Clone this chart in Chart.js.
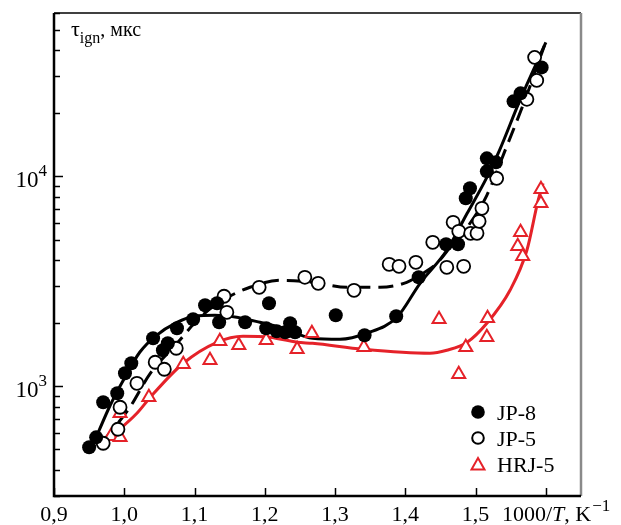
<!DOCTYPE html>
<html>
<head>
<meta charset="utf-8">
<script src="https://cdn.jsdelivr.net/npm/chart.js@4.4.1/dist/chart.umd.min.js"></script>
<style>
  html, body { margin: 0; padding: 0; background: #fff; }
  #wrap { width: 621px; height: 525px; }
</style>
</head>
<body>
<div id="wrap"><canvas id="chart" width="621" height="525"></canvas></div>
<script>
// ----- data (x = 1000/T, K^-1 ; y = tau_ign, mks) -----
const jp8X = [0.950, 0.960, 0.970, 0.990, 1.001, 1.010, 1.041, 1.055, 1.062, 1.075, 1.098, 1.115, 1.132, 1.135, 1.172, 1.206, 1.202, 1.217, 1.229, 1.236, 1.243, 1.301, 1.342, 1.387, 1.419, 1.458, 1.475, 1.486, 1.492, 1.516, 1.516, 1.529, 1.554, 1.564, 1.594];
const jp8Y = [512, 571, 839, 926, 1153, 1287, 1692, 1484, 1602, 1889, 2085, 2431, 2485, 2017, 2017, 2485, 1889, 1828, 1808, 1995, 1808, 2178, 1750, 2154, 3304, 4745, 4745, 7858, 8769, 10564, 12182, 11660, 22760, 24850, 33040];

const jp5X = [0.970, 0.991, 0.994, 1.018, 1.044, 1.057, 1.074, 1.142, 1.146, 1.192, 1.257, 1.276, 1.327, 1.377, 1.391, 1.415, 1.439, 1.459, 1.468, 1.476, 1.483, 1.493, 1.502, 1.505, 1.509, 1.530, 1.573, 1.587, 1.584];
const jp5Y = [535, 624, 794, 1033, 1301, 1205, 1517, 2683, 2251, 2961, 3304, 3094, 2865, 3811, 3728, 3895, 4851, 3687, 6039, 5472, 3728, 5354, 5354, 6105, 7041, 9783, 23270, 28650, 36880];

const hrjX = [0.981, 0.994, 0.994, 1.035, 1.084, 1.122, 1.136, 1.163, 1.202, 1.246, 1.267, 1.341, 1.448, 1.476, 1.486, 1.516, 1.517, 1.560, 1.564, 1.567, 1.593, 1.593];
const hrjY = [578, 571, 744, 886, 1273, 1330, 1638, 1568, 1656, 1500, 1788, 1533, 2085, 1141, 1533, 1712, 2108, 4642, 5412, 4159, 7439, 8676];

// fitted curves
const fitJp8X = [0.957, 0.980, 1.001, 1.022, 1.044, 1.075, 1.101, 1.129, 1.160, 1.193, 1.226, 1.268, 1.307, 1.345, 1.388, 1.421, 1.459, 1.488, 1.516, 1.534, 1.563, 1.600];
const fitJp8Y = [541, 812, 1104, 1452, 1730, 2017, 2154, 2178, 2131, 2017, 1889, 1692, 1674, 1788, 2131, 3094, 4443, 6665, 9890, 13300, 23010, 43450];

const fitJp5X = [0.971, 1.008, 1.037, 1.075, 1.108, 1.140, 1.179, 1.222, 1.268, 1.317, 1.364, 1.402, 1.425, 1.445, 1.466, 1.488, 1.516, 1.542, 1.570, 1.598];
const fitJp5Y = [553, 794, 1153, 1602, 2131, 2568, 2961, 3196, 3127, 2961, 2961, 3127, 3452, 3853, 4692, 5716, 8122, 13300, 23010, 42060];

const fitHrjX = [0.980, 1.018, 1.037, 1.084, 1.132, 1.169, 1.207, 1.246, 1.268, 1.340, 1.435, 1.459, 1.488, 1.516, 1.549, 1.573, 1.589, 1.596];
const fitHrjY = [571, 744, 886, 1287, 1620, 1730, 1712, 1620, 1602, 1500, 1436, 1484, 1620, 1995, 2865, 4443, 7686, 9262];

// axes
const xMin = 0.9, xMax = 1.65;
const yMin = 300, yMax = 60000;
const xTicks = [0.9, 1.0, 1.1, 1.2, 1.3, 1.4, 1.5, 1.6];
const xTickLabels = ['0,9', '1,0', '1,1', '1,2', '1,3', '1,4', '1,5', ''];
const yTicks = [300, 400, 500, 600, 700, 800, 900, 1000, 2000, 3000, 4000, 5000, 6000, 7000, 8000, 9000, 10000, 20000, 30000, 40000, 50000, 60000];
const yMajor = [1000, 10000];
const yMajorExp = ['3', '4'];

const legendNames = ['JP-8', 'JP-5', 'HRJ-5'];
const RED = '#e52229';
const SERIF = '"Liberation Serif", "DejaVu Serif", serif';

const pts = (xs, ys) => xs.map((x, i) => ({ x: x, y: ys[i] }));

// ----- axes, ticks, labels and legend drawn by hand -----
const framePlugin = {
  id: 'frame',
  afterDraw(chart) {
    const ctx = chart.ctx;
    const a = chart.chartArea;
    const xs = chart.scales.x, ys = chart.scales.y;
    ctx.save();

    // top and right border
    ctx.lineWidth = 1.5;
    ctx.strokeStyle = '#000';
    ctx.beginPath(); ctx.moveTo(a.left, a.top); ctx.lineTo(a.right, a.top); ctx.stroke();
    ctx.lineWidth = 2.5;
    ctx.strokeStyle = '#8a8a8a';
    ctx.beginPath(); ctx.moveTo(a.right, a.top); ctx.lineTo(a.right, a.bottom); ctx.stroke();

    // left + bottom axis
    ctx.strokeStyle = '#000';
    ctx.lineWidth = 2.5;
    ctx.beginPath(); ctx.moveTo(a.left, a.top); ctx.lineTo(a.left, a.bottom); ctx.lineTo(a.right, a.bottom); ctx.stroke();

    // ticks (inward)
    ctx.lineWidth = 1.5;
    yTicks.forEach(v => {
      const py = Math.round(ys.getPixelForValue(v)) + 0.5;
      const len = yMajor.includes(v) ? 9 : 6;
      ctx.beginPath(); ctx.moveTo(a.left, py); ctx.lineTo(a.left + len, py); ctx.stroke();
    });
    xTicks.forEach(v => {
      const px = Math.round(xs.getPixelForValue(v)) + 0.5;
      ctx.beginPath(); ctx.moveTo(px, a.bottom); ctx.lineTo(px, a.bottom - 8); ctx.stroke();
    });

    // x tick labels
    ctx.fillStyle = '#000';
    ctx.textBaseline = 'alphabetic';
    ctx.textAlign = 'center';
    ctx.font = '22px ' + SERIF;
    xTicks.forEach((v, i) => {
      if (xTickLabels[i]) ctx.fillText(xTickLabels[i], xs.getPixelForValue(v), 521);
    });

    // x axis title: 1000/T, K^-1
    ctx.textAlign = 'left';
    let tx = 502;
    ctx.font = '22px ' + SERIF;
    ctx.fillText('1000/', tx, 521); tx += ctx.measureText('1000/').width;
    ctx.font = 'italic 22px ' + SERIF;
    ctx.fillText('T', tx, 521); tx += ctx.measureText('T').width;
    ctx.font = '22px ' + SERIF;
    ctx.fillText(', K', tx, 521); tx += ctx.measureText(', K').width + 1;
    ctx.font = '17px ' + SERIF;
    ctx.fillText('\u22121', tx, 511);

    // y labels 10^3, 10^4
    yMajor.forEach((v, i) => {
      const py = ys.getPixelForValue(v);
      ctx.font = '17px ' + SERIF;
      const ew = ctx.measureText(yMajorExp[i]).width;
      ctx.textAlign = 'left';
      ctx.fillText(yMajorExp[i], 47 - ew, py);
      ctx.font = '23px ' + SERIF;
      ctx.textAlign = 'right';
      ctx.fillText('10', 47 - ew, py + 11);
    });

    // y title: tau_ign, mks
    ctx.textAlign = 'left';
    let ty = 71;
    ctx.font = '22px ' + SERIF;
    ctx.fillText('\u03c4', ty, 36); ty += ctx.measureText('\u03c4').width;
    ctx.font = '16px ' + SERIF;
    ctx.fillText('ign', ty, 43); ty += ctx.measureText('ign').width;
    ctx.font = '20px ' + SERIF;
    ctx.fillText(', \u043c\u043a\u0441', ty, 36);

    // legend
    const lx = 478;
    ctx.font = '22px ' + SERIF;
    ctx.fillStyle = '#000';
    ctx.beginPath(); ctx.arc(lx, 412, 6.8, 0, Math.PI * 2); ctx.fill();
    ctx.lineWidth = 2;
    ctx.strokeStyle = '#000';
    ctx.fillStyle = '#fff';
    ctx.beginPath(); ctx.arc(lx, 438, 5.8, 0, Math.PI * 2); ctx.fill(); ctx.stroke();
    ctx.strokeStyle = RED;
    ctx.beginPath();
    ctx.moveTo(lx, 458); ctx.lineTo(lx + 6.5, 469.5); ctx.lineTo(lx - 6.5, 469.5); ctx.closePath();
    ctx.stroke();
    ctx.fillStyle = '#000';
    ctx.fillText(legendNames[0], 497, 420);
    ctx.fillText(legendNames[1], 497, 446);
    ctx.fillText(legendNames[2], 497, 472);

    ctx.restore();
  }
};

const ctx = document.getElementById('chart').getContext('2d');
const chart = new Chart(ctx, {
  type: 'scatter',
  data: {
    datasets: [
      { label: 'fit JP-8', data: pts(fitJp8X, fitJp8Y), showLine: true, borderColor: '#000', borderWidth: 3,
        pointRadius: 0, cubicInterpolationMode: 'monotone', order: 10 },
      { label: 'fit JP-5', data: pts(fitJp5X, fitJp5Y), showLine: true, borderColor: '#000', borderWidth: 3,
        borderDash: [15, 8], pointRadius: 0, cubicInterpolationMode: 'monotone', order: 10 },
      { label: 'fit HRJ-5', data: pts(fitHrjX, fitHrjY), showLine: true, borderColor: RED, borderWidth: 3,
        pointRadius: 0, cubicInterpolationMode: 'monotone', order: 10 },
      { label: legendNames[2], data: pts(hrjX, hrjY), pointStyle: 'triangle', pointRadius: 7.5,
        borderColor: RED, backgroundColor: '#fff', borderWidth: 2, order: 3 },
      { label: legendNames[1], data: pts(jp5X, jp5Y), pointStyle: 'circle', pointRadius: 6.5,
        borderColor: '#000', backgroundColor: '#fff', borderWidth: 1.8, order: 2 },
      { label: legendNames[0], data: pts(jp8X, jp8Y), pointStyle: 'circle', pointRadius: 7,
        borderColor: '#000', backgroundColor: '#000', borderWidth: 0, order: 1 },
    ],
  },
  options: {
    responsive: false,
    devicePixelRatio: 1,
    animation: false,
    layout: { padding: { left: 0, right: 40, top: 13, bottom: 0 } },
    scales: {
      x: {
        type: 'linear', min: xMin, max: xMax,
        grid: { display: false }, border: { display: false },
        ticks: { display: false },
        afterFit: s => { s.height = 29; },
      },
      y: {
        type: 'logarithmic', min: yMin, max: yMax,
        grid: { display: false }, border: { display: false },
        ticks: { display: false },
        afterFit: s => { s.width = 54; },
      },
    },
    plugins: {
      legend: { display: false },
      tooltip: { enabled: false },
    },
  },
  plugins: [framePlugin],
});
</script>
</body>
</html>
